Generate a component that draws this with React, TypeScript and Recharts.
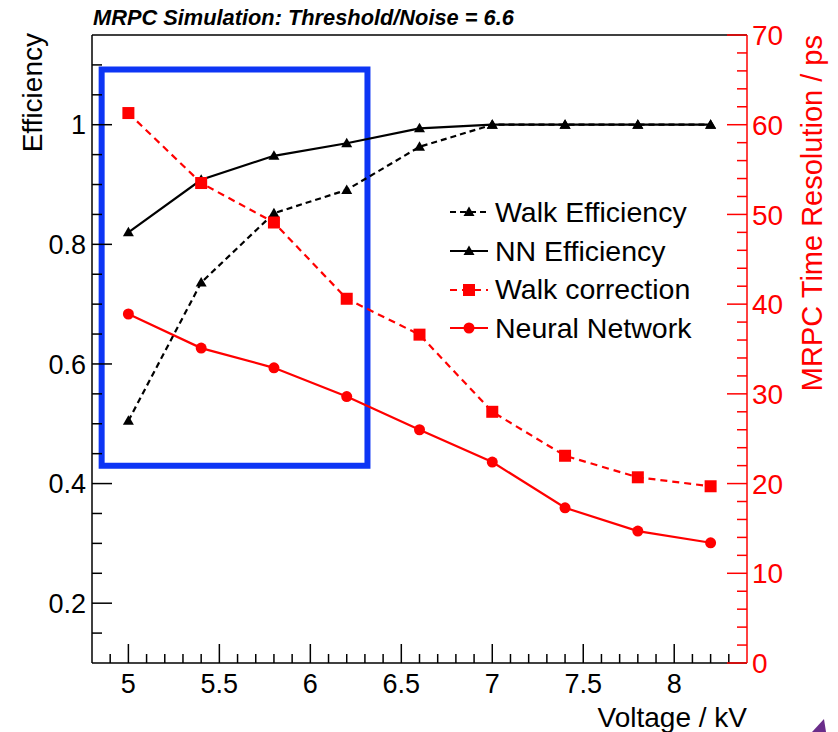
import React from "react";
import { LineChart, Line, XAxis, YAxis, ReferenceLine, ReferenceArea, Legend } from "recharts";

// voltage points (kV)
const voltage = [5, 5.4, 5.8, 6.2, 6.6, 7.0, 7.4, 7.8, 8.2];
// left axis: efficiency
const walkEfficiency = [0.505, 0.736, 0.852, 0.891, 0.963, 1.0, 1.0, 1.0, 1.0];
const nnEfficiency = [0.82, 0.908, 0.948, 0.969, 0.994, 1.0, 1.0, 1.0, 1.0];
// right axis: time resolution (ps)
const walkCorrection = [61.3, 53.5, 49.1, 40.6, 36.6, 28.0, 23.1, 20.7, 19.7];
const neuralNetwork = [38.9, 35.1, 32.9, 29.7, 26.0, 22.4, 17.3, 14.7, 13.4];

const seriesNames = ["Walk Efficiency", "NN Efficiency", "Walk correction", "Neural Network"];

const xLabels = [5, 5.5, 6, 6.5, 7, 7.5, 8];
const leftLabels = [0.2, 0.4, 0.6, 0.8, 1];
const rightLabels = [0, 10, 20, 30, 40, 50, 60, 70];

// blue highlight box drawn on the slide (data coords)
const boxX = [4.853, 6.314];
const boxY = [0.43, 1.0925];

const steps = (from: number, to: number, step: number) => {
  const out: number[] = [];
  for (let v = from; v <= to + 1e-9; v += step) out.push(Math.round(v * 1000) / 1000);
  return out;
};
const xTicks = steps(4.9, 8.3, 0.1);
const leftTicks = steps(0.15, 1.1, 0.05);
const rightTicks = steps(0, 70, 2);

const data = voltage.map((v, i) => ({
  v,
  walkEff: walkEfficiency[i],
  nnEff: nnEfficiency[i],
  walkCorr: walkCorrection[i],
  nn: neuralNetwork[i],
}));

const RED = "#ff0000";
const FONT = "'Liberation Sans', Arial, Helvetica, sans-serif";
const findLabel = (v: number, list: number[]) => list.find((l) => Math.abs(l - v) < 1e-6);

const XTick = ({ x, y, payload }: any) => {
  const lbl = findLabel(payload.value, xLabels);
  const major = lbl !== undefined;
  return (
    <g>
      <line x1={x} x2={x} y1={y} y2={y - (major ? 19 : 9)} stroke="#000" strokeWidth={1.5} />
      {major && (
        <text x={x} y={y + 30} textAnchor="middle" fontSize={27} fontFamily={FONT} fill="#000">
          {String(lbl)}
        </text>
      )}
    </g>
  );
};

const LeftTick = ({ x, y, payload }: any) => {
  const lbl = findLabel(payload.value, leftLabels);
  const major = lbl !== undefined;
  return (
    <g>
      <line x1={x} x2={x + (major ? 20 : 10)} y1={y} y2={y} stroke="#000" strokeWidth={1.5} />
      {major && (
        <text x={x - 6} y={y} dy="0.36em" textAnchor="end" fontSize={27} fontFamily={FONT} fill="#000">
          {String(lbl)}
        </text>
      )}
    </g>
  );
};

const RightTick = ({ x, y, payload }: any) => {
  const lbl = findLabel(payload.value, rightLabels);
  const major = lbl !== undefined;
  return (
    <g>
      <line x1={x} x2={x - (major ? 20 : 10)} y1={y} y2={y} stroke={RED} strokeWidth={1.5} />
      {major && (
        <text x={x + 5} y={y} dy="0.36em" textAnchor="start" fontSize={28} fontFamily={FONT} fill={RED}>
          {String(lbl)}
        </text>
      )}
    </g>
  );
};

const Triangle = ({ cx, cy }: any) =>
  cx == null ? null : (
    <polygon points={`${cx - 5.5},${cy + 4} ${cx + 5.5},${cy + 4} ${cx},${cy - 5.5}`} fill="#000" />
  );
const Square = ({ cx, cy }: any) =>
  cx == null ? null : <rect x={cx - 6} y={cy - 6} width={12} height={12} fill={RED} />;
const Circle = ({ cx, cy }: any) => (cx == null ? null : <circle cx={cx} cy={cy} r={5.5} fill={RED} />);

const legendStyle: Record<string, { dash?: string; Marker: any }> = {
  walkEff: { dash: "6 4", Marker: Triangle },
  nnEff: { Marker: Triangle },
  walkCorr: { dash: "7 5", Marker: Square },
  nn: { Marker: Circle },
};

const renderLegend = (props: any) => {
  const items = [...(props.payload || [])].sort(
    (a: any, b: any) => seriesNames.indexOf(a.value) - seriesNames.indexOf(b.value)
  );
  return (
    <div style={{ fontFamily: FONT }}>
      {items.map((e: any) => {
        const s = legendStyle[e.dataKey];
        const M = s.Marker;
        return (
          <div key={e.value} style={{ display: "flex", alignItems: "center", height: 38.7 }}>
            <svg width={38} height={20} style={{ marginRight: 7 }}>
              <line x1={0} x2={38} y1={10} y2={10} stroke={e.color} strokeWidth={2.2} strokeDasharray={s.dash} />
              <M cx={19} cy={10} />
            </svg>
            <span style={{ fontSize: 28.5, color: "#000", whiteSpace: "nowrap" }}>{e.value}</span>
          </div>
        );
      })}
    </div>
  );
};

export default function App() {
  return (
    <div style={{ position: "absolute", left: 0, top: 0, width: 838, height: 732, background: "#fff", fontFamily: FONT }}>
      <LineChart width={838} height={732} data={data} margin={{ top: 35, right: 90, bottom: 68, left: 91 }}>
        <XAxis
          dataKey="v"
          type="number"
          domain={[4.8, 8.4]}
          ticks={xTicks}
          interval={0}
          allowDataOverflow
          height={1}
          tickSize={0}
          tickMargin={0}
          tickLine={false}
          axisLine={{ stroke: "#000", strokeWidth: 1.5 }}
          tick={XTick}
          label={({ viewBox }: any) => (
            <text x={viewBox.x + viewBox.width} y={727} textAnchor="end" fontSize={28} fontFamily={FONT} fill="#000">
              Voltage / kV
            </text>
          )}
        />
        <YAxis
          yAxisId="left"
          type="number"
          domain={[0.1, 1.15]}
          ticks={leftTicks}
          interval={0}
          allowDataOverflow
          width={1}
          tickSize={0}
          tickMargin={0}
          tickLine={false}
          axisLine={{ stroke: "#000", strokeWidth: 1.5 }}
          tick={LeftTick}
          label={({ viewBox }: any) => (
            <text
              x={42}
              y={viewBox.y - 2}
              transform={`rotate(-90, 42, ${viewBox.y - 2})`}
              textAnchor="end"
              fontSize={28}
              fontFamily={FONT}
              fill="#000"
            >
              Efficiency
            </text>
          )}
        />
        <YAxis
          yAxisId="right"
          orientation="right"
          type="number"
          domain={[0, 70]}
          ticks={rightTicks}
          interval={0}
          allowDataOverflow
          width={1}
          tickSize={0}
          tickMargin={0}
          tickLine={false}
          axisLine={{ stroke: RED, strokeWidth: 1.5 }}
          tick={RightTick}
          label={({ viewBox }: any) => (
            <text
              x={822}
              y={viewBox.y}
              transform={`rotate(-90, 822, ${viewBox.y})`}
              textAnchor="end"
              fontSize={29}
              fontFamily={FONT}
              fill={RED}
            >
              MRPC Time Resolution / ps
            </text>
          )}
        />
        <ReferenceLine
          yAxisId="left"
          y={1.15}
          stroke="#000"
          strokeWidth={1.5}
          label={({ viewBox }: any) => (
            <text
              x={viewBox.x + 1}
              y={25}
              fontSize={21.8}
              fontWeight="bold"
              fontStyle="italic"
              fontFamily={FONT}
              fill="#000"
            >
              MRPC Simulation: Threshold/Noise = 6.6
            </text>
          )}
        />
        <Line
          yAxisId="left"
          dataKey="walkEff"
          name={seriesNames[0]}
          stroke="#000"
          strokeWidth={2.2}
          strokeDasharray="6 4"
          dot={Triangle}
          activeDot={false}
          isAnimationActive={false}
        />
        <Line
          yAxisId="left"
          dataKey="nnEff"
          name={seriesNames[1]}
          stroke="#000"
          strokeWidth={2.2}
          dot={Triangle}
          activeDot={false}
          isAnimationActive={false}
        />
        <Line
          yAxisId="right"
          dataKey="walkCorr"
          name={seriesNames[2]}
          stroke={RED}
          strokeWidth={2.2}
          strokeDasharray="7 5"
          dot={Square}
          activeDot={false}
          isAnimationActive={false}
        />
        <Line
          yAxisId="right"
          dataKey="nn"
          name={seriesNames[3]}
          stroke={RED}
          strokeWidth={2.2}
          dot={Circle}
          activeDot={false}
          isAnimationActive={false}
        />
        <ReferenceArea
          yAxisId="left"
          x1={boxX[0]}
          x2={boxX[1]}
          y1={boxY[0]}
          y2={boxY[1]}
          fill="none"
          fillOpacity={0}
          stroke="#0d35f5"
          strokeWidth={6}
        />
        <Legend
          layout="vertical"
          align="center"
          verticalAlign="middle"
          content={renderLegend}
          wrapperStyle={{ position: "absolute", left: 450, top: 193, width: 280 }}
        />
      </LineChart>
      <svg style={{ position: "absolute", left: 0, top: 0 }} width={838} height={732} pointerEvents="none">
        <polygon points="812,732 824,719 826,732" fill="#6a2d8a" />
      </svg>
    </div>
  );
}
